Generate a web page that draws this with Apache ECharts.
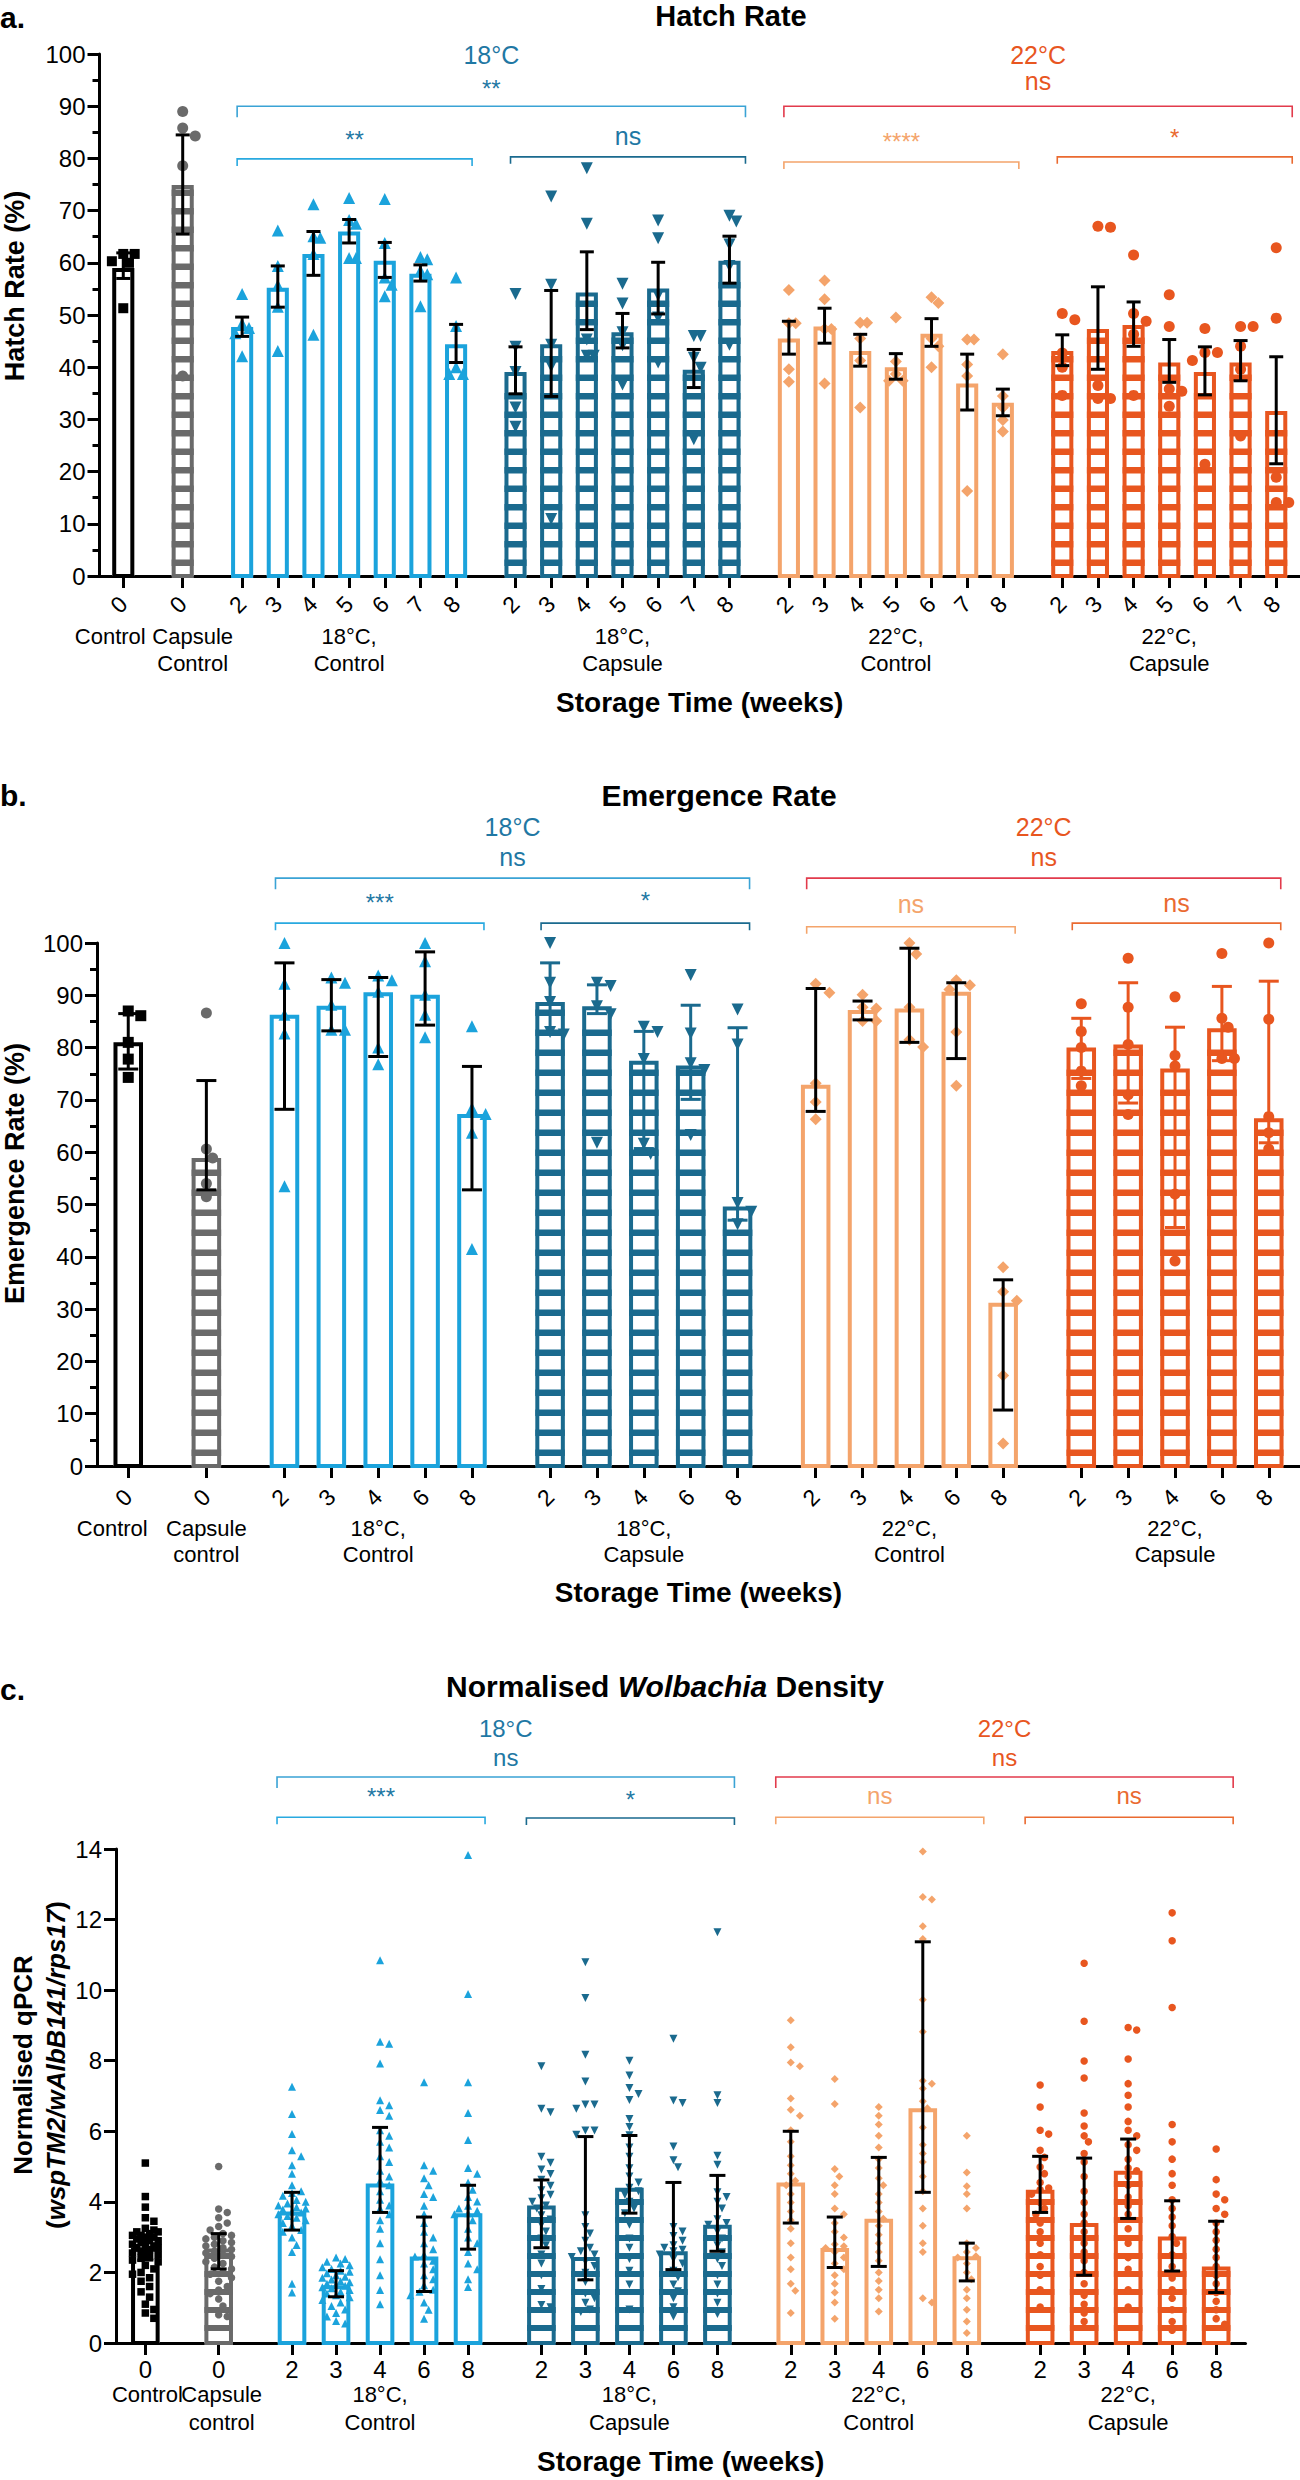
<!DOCTYPE html>
<html>
<head>
<meta charset="utf-8">
<script src="https://cdn.jsdelivr.net/npm/echarts@6/dist/echarts.min.js"></script>
<style>html,body{margin:0;padding:0;background:#fff}#chart{width:1300px;height:2480px}</style>
</head>
<body>
<div id="chart"></div>
<script>
// ---------------- DATA ----------------
// Panel a: Hatch rate (%)
const hatchLabels = ['Control', 'Capsule\nControl', '18°C,\nControl', '18°C,\nCapsule', '22°C,\nControl', '22°C,\nCapsule'];
const hatchWeeks = [[0], [0], [2, 3, 4, 5, 6, 7, 8], [2, 3, 4, 5, 6, 7, 8], [2, 3, 4, 5, 6, 7, 8], [2, 3, 4, 5, 6, 7, 8]];
const hatchMean = [[59.0], [74.9], [47.7, 55.2, 61.7, 66.0, 60.4, 57.9, 44.4], [39.1, 44.4, 54.3, 46.7, 55.1, 39.5, 60.4], [45.5, 47.8, 43.1, 40.0, 46.4, 36.9, 33.2], [43.1, 47.3, 48.1, 40.9, 39.1, 40.9, 31.6]];
const hatchLow = [[57.0], [65.5], [45.9, 51.5, 57.6, 63.8, 57.2, 56.5, 40.9], [34.9, 34.4, 47.2, 43.7, 50.2, 36.1, 56.1], [42.5, 44.6, 40.2, 37.7, 44.0, 31.8, 30.7], [40.3, 39.6, 44.0, 37.1, 34.7, 37.4, 21.5]];
const hatchHigh = [[61.9], [84.5], [49.6, 59.4, 66.0, 68.3, 63.9, 59.6, 48.2], [43.9, 54.7, 62.1, 50.3, 60.1, 43.4, 65.1], [48.8, 51.3, 46.3, 42.6, 49.3, 42.5, 35.8], [46.2, 55.4, 52.5, 45.3, 43.9, 45.1, 42.0]];
const hatchPoints = [
  [[61.7, 61.7, 60.3, 60.0, 51.3]],
  [[89.0, 85.8, 84.3, 78.6, 38.3]],
  [[54.0, 48.3, 47.5, 46.5, 42.1], [66.2, 59.4, 55.7, 51.6, 43.1], [71.2, 65.1, 64.8, 61.7, 46.2], [72.4, 68.2, 67.5, 60.9, 60.9], [72.2, 63.8, 57.2, 55.8, 53.6], [61.1, 60.7, 58.5, 57.8, 51.7], [57.2, 47.9, 40.0, 38.7, 38.7]],
  [[54.0, 43.9, 39.1, 32.3, 28.6], [72.7, 55.8, 44.3, 40.2, 10.9], [78.1, 67.5, 45.3, 42.2, 42.2], [56.0, 52.2, 46.7, 44.2, 36.7], [68.1, 64.7, 53.8, 49.5, 40.9], [46.0, 46.0, 41.8, 39.9, 26.2], [69.0, 67.9, 63.5, 59.4, 44.3]],
  [[54.8, 48.4, 48.4, 39.6, 37.2], [56.6, 53.0, 47.3, 47.3, 36.9], [48.5, 48.5, 45.5, 41.3, 32.3], [49.5, 41.1, 38.7, 37.4, 37.4], [53.4, 52.3, 45.5, 44.0, 40.0], [45.3, 45.3, 40.5, 38.3, 16.3], [42.5, 34.5, 32.3, 29.9, 27.7]],
  [[50.3, 49.1, 42.7, 40.0, 34.6], [67.0, 66.8, 36.5, 34.0, 34.0], [61.5, 50.3, 48.8, 46.3, 34.6], [53.9, 47.8, 35.8, 35.4, 32.5], [47.4, 42.8, 42.8, 41.3, 21.4], [47.8, 47.8, 44.0, 39.6, 26.8], [62.9, 49.4, 18.9, 14.1, 14.1]]
];
const hatchSig = [['18°C', '**'], ['**'], ['ns'], ['22°C', 'ns'], ['****'], ['*']];

// Panel b: Emergence rate (%)
const emergLabels = ['Control', 'Capsule\ncontrol', '18°C,\nControl', '18°C,\nCapsule', '22°C,\nControl', '22°C,\nCapsule'];
const emergWeeks = [[0], [0], [2, 3, 4, 6, 8], [2, 3, 4, 6, 8], [2, 3, 4, 6, 8], [2, 3, 4, 6, 8]];
const emergMedian = [[81.0], [58.9], [86.3, 88.0, 90.6, 90.1, 67.3], [88.7, 87.9, 77.5, 76.6, 49.6], [72.9, 87.2, 87.5, 90.7, 31.2], [80.0, 80.6, 76.0, 83.7, 66.5]];
const emergLow = [[75.9], [52.8], [68.2, 83.2, 78.3, 84.3, 52.8], [83.0, 86.5, 60.7, 70.1, 47.0], [67.8, 85.3, 81.0, 77.9, 10.7], [74.1, 69.4, 45.6, 77.5, 61.8]];
const emergHigh = [[86.5], [73.7], [96.2, 93.0, 93.4, 98.3, 76.4], [96.2, 92.0, 83.1, 88.1, 83.8], [91.3, 88.9, 99.0, 92.4, 35.6], [85.6, 92.4, 83.9, 91.7, 92.7]];
const emergPoints = [
  [[87.0, 86.1, 81.0, 77.8, 74.3]],
  [[86.6, 60.6, 58.9, 54.0, 51.5]],
  [[100.0, 92.2, 86.3, 82.7, 53.5], [93.4, 92.4, 88.2, 83.4, 83.4], [93.8, 92.9, 90.7, 80.0, 76.8], [100.0, 96.5, 90.1, 86.3, 82.0], [84.1, 68.4, 67.3, 63.7, 41.5]],
  [[100.0, 92.4, 88.7, 83.0, 82.5], [92.4, 91.8, 87.9, 86.4, 61.8], [84.0, 83.0, 77.8, 61.6, 59.7], [93.9, 82.7, 77.0, 75.7, 63.3], [87.3, 80.6, 50.3, 48.6, 46.2]],
  [[92.2, 90.5, 73.2, 69.6, 66.3], [90.1, 87.7, 87.5, 85.1, 85.1], [100.0, 97.9, 87.7, 81.5, 80.1], [92.9, 91.9, 91.1, 83.0, 72.7], [38.0, 33.3, 31.6, 17.3, 4.3]],
  [[88.4, 83.1, 80.0, 75.5, 72.7], [97.1, 87.7, 80.6, 71.0, 67.2], [89.7, 78.5, 76.5, 52.0, 39.2], [98.0, 85.6, 83.9, 77.9, 77.9], [100.0, 85.4, 66.8, 63.7, 60.6]]
];
const emergSig = [['18°C', 'ns'], ['***'], ['*'], ['22°C', 'ns'], ['ns'], ['ns']];

// Panel c: Normalised Wolbachia density
const wolbLabels = ['Control', 'Capsule\ncontrol', '18°C,\nControl', '18°C,\nCapsule', '22°C,\nControl', '22°C,\nCapsule'];
const wolbWeeks = [[0], [0], [2, 3, 4, 6, 8], [2, 3, 4, 6, 8], [2, 3, 4, 6, 8], [2, 3, 4, 6, 8]];
const wolbMedian = [[2.70], [2.68], [3.73, 1.64, 4.52, 2.45, 3.68], [3.90, 2.44, 4.40, 2.60, 3.35], [4.55, 2.69, 3.52, 6.65, 2.46], [4.34, 3.40, 4.88, 3.02, 2.17]];
const wolbLow = [[2.35], [2.10], [3.20, 1.31, 3.70, 1.46, 2.66], [2.70, 1.79, 3.68, 2.08, 2.60], [3.40, 2.14, 2.17, 4.27, 1.76], [3.70, 1.92, 3.53, 2.04, 1.43]];
const wolbHigh = [[3.00], [3.10], [4.27, 2.05, 6.11, 3.57, 4.47], [4.62, 5.85, 5.88, 4.55, 4.75], [6.00, 3.57, 5.26, 11.37, 2.83], [5.29, 5.24, 5.78, 4.03, 3.45]];
const wolbPoints = [
  [[5.1, 4.15, 3.85, 3.55, 3.45, 3.25, 3.2, 3.15, 3.15, 3.1, 3.05, 3.05, 3.0, 3.0, 2.95, 2.9, 2.9, 2.85, 2.8, 2.75, 2.75, 2.7, 2.7, 2.65, 2.6, 2.55, 2.5, 2.45, 2.4, 2.35, 2.3, 2.2, 2.1, 2.0, 1.95, 1.85, 1.75, 1.6, 1.45, 1.3, 1.1, 0.95, 0.85, 0.7]],
  [[5.0, 3.8, 3.7, 3.55, 3.4, 3.3, 3.2, 3.1, 3.05, 3.0, 2.95, 2.9, 2.85, 2.8, 2.75, 2.7, 2.65, 2.6, 2.55, 2.5, 2.45, 2.4, 2.3, 2.25, 2.15, 2.1, 2.0, 1.95, 1.85, 1.75, 1.6, 1.5, 1.4, 1.25, 1.05, 0.8, 0.75]],
  [
    [7.26, 6.49, 5.92, 5.46, 5.29, 5.04, 4.8, 4.47, 4.3, 4.25, 4.17, 4.05, 4.0, 3.95, 3.9, 3.85, 3.81, 3.78, 3.73, 3.7, 3.65, 3.6, 3.55, 3.48, 3.4, 3.32, 3.2, 3.15, 2.99, 2.78, 2.58, 1.68, 1.43],
    [2.42, 2.38, 2.3, 2.25, 2.2, 2.15, 2.1, 2.05, 2.02, 1.98, 1.92, 1.88, 1.85, 1.8, 1.75, 1.72, 1.68, 1.65, 1.62, 1.58, 1.55, 1.5, 1.45, 1.4, 1.35, 1.3, 1.22, 1.15, 1.05, 0.95, 0.85, 0.75, 0.62, 0.55],
    [10.85, 8.54, 8.48, 7.92, 6.88, 6.74, 6.6, 6.44, 6.03, 5.87, 5.7, 5.54, 5.29, 5.13, 4.88, 4.72, 4.6, 4.47, 4.3, 4.06, 3.9, 3.81, 3.65, 3.48, 3.24, 2.83, 2.37, 1.92, 1.5, 1.1],
    [7.39, 5.04, 4.88, 4.67, 4.47, 4.22, 4.14, 3.89, 3.65, 3.4, 3.15, 2.99, 2.83, 2.66, 2.5, 2.45, 2.33, 2.25, 2.09, 1.92, 1.81, 1.64, 1.51, 1.45, 1.35, 1.15, 0.94, 0.69],
    [13.83, 9.89, 7.39, 6.52, 5.75, 4.96, 4.8, 4.55, 4.34, 4.14, 4.01, 3.89, 3.81, 3.75, 3.68, 3.65, 3.48, 3.24, 2.99, 2.83, 2.58, 2.25, 2.09, 1.81, 1.59]
  ],
  [
    [7.84, 6.64, 6.54, 5.28, 5.11, 4.92, 4.79, 4.63, 4.46, 4.33, 4.2, 4.1, 4.0, 3.9, 3.81, 3.62, 3.5, 3.35, 3.16, 2.96, 2.77, 2.51, 2.25, 1.92, 1.53, 1.08, 1.01],
    [10.79, 9.78, 8.17, 7.41, 6.76, 6.76, 6.64, 6.02, 6.02, 5.9, 3.62, 3.29, 3.1, 2.9, 2.7, 2.6, 2.51, 2.44, 2.31, 2.18, 1.99, 1.73, 1.4, 1.27, 1.14, 0.95, 0.88],
    [8.0, 7.58, 7.23, 7.06, 6.89, 6.35, 6.12, 5.89, 5.54, 5.28, 4.95, 4.72, 4.55, 4.4, 4.3, 4.2, 4.0, 3.81, 3.68, 3.35, 2.96, 2.7, 2.38, 2.05, 1.66, 0.95],
    [8.62, 6.87, 6.8, 5.57, 5.18, 4.98, 3.29, 3.16, 3.03, 2.9, 2.77, 2.7, 2.64, 2.6, 2.51, 2.38, 2.25, 2.05, 1.86, 1.66, 1.47, 1.27, 1.01, 0.75],
    [11.64, 7.02, 6.8, 5.31, 5.05, 4.27, 4.14, 4.0, 3.81, 3.51, 3.4, 3.35, 3.16, 2.96, 2.77, 2.57, 2.38, 2.18, 1.92, 1.66, 1.4, 1.14, 0.82]
  ],
  [
    [9.15, 8.38, 7.95, 7.84, 6.93, 6.61, 6.44, 6.03, 5.7, 5.29, 5.04, 4.8, 4.6, 4.47, 4.22, 3.98, 3.73, 3.48, 3.24, 2.83, 2.42, 2.09, 1.68, 1.48, 0.85],
    [7.48, 6.77, 4.93, 4.72, 4.47, 4.22, 3.81, 3.65, 3.4, 3.15, 2.99, 2.8, 2.74, 2.69, 2.58, 2.42, 2.25, 2.09, 1.92, 1.68, 1.43, 1.15, 0.69],
    [6.69, 6.44, 6.19, 5.87, 5.54, 5.21, 4.96, 4.67, 4.47, 4.22, 3.98, 3.73, 3.52, 3.32, 3.07, 2.83, 2.58, 2.33, 2.0, 1.76, 1.51, 1.27, 0.89],
    [13.93, 12.64, 12.57, 11.81, 11.45, 9.73, 8.82, 7.43, 7.35, 7.21, 6.85, 6.65, 6.11, 5.62, 5.37, 5.13, 4.72, 4.3, 3.81, 3.32, 2.83, 2.58, 1.27, 1.15],
    [5.87, 4.83, 4.44, 4.22, 3.81, 2.83, 2.69, 2.58, 2.46, 2.42, 2.25, 2.0, 1.81, 1.51, 1.27, 0.94, 0.61, 0.28]
  ],
  [
    [7.31, 6.69, 6.03, 5.92, 5.46, 5.26, 4.99, 4.8, 4.55, 4.39, 4.34, 4.22, 3.98, 3.81, 3.65, 3.4, 3.15, 2.83, 2.5, 2.17, 1.92, 1.51, 1.02],
    [10.76, 9.12, 7.99, 7.51, 6.52, 6.15, 5.87, 5.7, 5.37, 5.13, 4.72, 4.3, 3.98, 3.65, 3.4, 3.15, 2.83, 2.58, 2.33, 2.0, 1.68, 1.35, 1.1, 0.85, 0.61],
    [8.94, 8.87, 8.05, 7.35, 7.02, 6.69, 6.28, 6.03, 5.87, 5.62, 5.46, 5.21, 4.96, 4.88, 4.72, 4.47, 4.14, 3.89, 3.65, 3.24, 2.83, 2.42, 2.09, 1.51, 1.02],
    [12.19, 11.4, 9.51, 6.19, 5.7, 5.21, 4.8, 4.47, 4.06, 3.81, 3.57, 3.32, 3.02, 2.83, 2.5, 2.17, 1.84, 1.51, 1.27, 0.94, 0.61, 0.36],
    [5.5, 4.63, 4.22, 4.06, 3.81, 3.65, 3.4, 3.15, 2.91, 2.66, 2.42, 2.17, 1.92, 1.68, 1.43, 1.18, 0.94, 0.69, 0.53]
  ]
];
const wolbSig = [['18°C', 'ns'], ['***'], ['*'], ['22°C', 'ns'], ['ns'], ['ns']];

// ---------------- STYLE / LAYOUT ----------------
const FONT = '"Liberation Sans", Arial, Helvetica, sans-serif';
const COLORS = ['#000000', '#6a6a6a', '#1ba3dc', '#1a6a8e', '#f4a46b', '#e8561f'];
const SYMBOLS = ['rect', 'circle', 'triangle', 'triangle', 'diamond', 'circle'];
const SYM_ROT = [0, 0, 0, 180, 0, 0];
const STRIPED = [false, true, false, true, false, true];
const TEXT18 = '#1f78a4', TEXT22 = '#e8561f';
const BRACKETS = [
  { from: 2, to: 3, top: true, line: '#3aa3d5', text: [TEXT18, TEXT18] },
  { from: 2, to: 2, top: false, line: '#29a9e0', text: [TEXT18] },
  { from: 3, to: 3, top: false, line: '#1a6a8e', text: [TEXT18] },
  { from: 4, to: 5, top: true, line: '#e23b4c', text: [TEXT22, TEXT22] },
  { from: 4, to: 4, top: false, line: '#f4a46b', text: ['#f4a46b'] },
  { from: 5, to: 5, top: false, line: '#ea6a30', text: ['#ea6a30'] }
];
const BLACK6 = ['#000', '#000', '#000', '#000', '#000', '#000'];

const panels = [
  {
    data: { labels: hatchLabels, weeks: hatchWeeks, bars: hatchMean, lo: hatchLow, hi: hatchHigh, pts: hatchPoints, sig: hatchSig },
    grid: { left: 99.5, top: 54, width: 1200.5, height: 522 },
    y: { min: 0, max: 100, interval: 10, minor: true },
    yName: 'Hatch Rate (%)', yNameGap: 68, yNamePad: 58, yNameSize: 27,
    tickRotate: 45, tickMargin: 24, tickSize: 23, groupMargin: 47, groupLine: 27, groupSize: 22,
    groupShift: [-13, 10, 0, 0, 0, 0], xNameGap: 112,
    barFrac: 0.62, barLine: 4, cap: 14, errColors: BLACK6, symSize: [10, 11, 12, 12, 12, 11],
    stripe: { period: 18.5, thick: 6.5, gap0: 10 },
    brTop: 90, brTopDy: [-51, -25], brInner: [79.9, 80.3, 79.3, 80.3], brInnerDy: [-27, -21, -28, -27],
    brPad: [-5, 16], brTick: [11, 7], brFont: [25, 24]
  },
  {
    data: { labels: emergLabels, weeks: emergWeeks, bars: emergMedian, lo: emergLow, hi: emergHigh, pts: emergPoints, sig: emergSig },
    grid: { left: 97, top: 943, width: 1203, height: 523 },
    y: { min: 0, max: 100, interval: 10, minor: true },
    yName: 'Emergence Rate (%)', yNameGap: 66, yNamePad: 62, yNameSize: 27,
    tickRotate: 45, tickMargin: 27, tickSize: 23, groupMargin: 49, groupLine: 26, groupSize: 22,
    groupShift: [-16, 0, 0, 0, 0, 0], xNameGap: 112,
    barFrac: 0.63, barLine: 4, cap: 20, errColors: ['#000', '#000', '#000', '#1a6a8e', '#000', '#e8561f'],
    symSize: [11, 11, 12, 12, 12, 11],
    stripe: { period: 20, thick: 6.5, gap0: 10 },
    brTop: 112.4, brTopDy: [-51, -21], brInner: [103.8, 103.8, 103.1, 103.8], brInnerDy: [-28, -30, -23, -20],
    brPad: [-9, 12], brTick: [11, 7], brFont: [25, 24]
  },
  {
    data: { labels: wolbLabels, weeks: wolbWeeks, bars: wolbMedian, lo: wolbLow, hi: wolbHigh, pts: wolbPoints, sig: wolbSig },
    grid: { left: 116, top: 1849, width: 1129.5, height: 494 },
    y: { min: 0, max: 14, interval: 2, minor: false },
    yName: 'Normalised qPCR\n({i|wspTM2/wAlbB141/rps17})', yNameGap: 44, yNamePad: 62, yNameSize: 26,
    tickRotate: 0, tickMargin: 14, tickSize: 24, groupMargin: 37, groupLine: 28, groupSize: 22,
    groupShift: [2, 3, 0, 0, 0, 0], xNameGap: 104,
    barFrac: 0.65, barLine: 4, cap: 16, errColors: BLACK6, symSize: [7.5, 7.5, 8, 8, 8, 7.5],
    stripe: { period: 18, thick: 6, gap0: 12 },
    brTop: 16.04, brTopDy: [-49, -20], brInner: [14.9, 14.88, 14.9, 14.9], brInnerDy: [-28, -26, -22, -22],
    brPad: [-15, 17], brTick: [11, 7], brFont: [24, 24]
  }
];

// ---------------- HELPERS ----------------
function buildLayout(weeks) {
  const cats = ['gap0', 'gap1'];
  const idx = [];
  weeks.forEach((wk, g) => {
    if (g > 0) for (let k = 0; k < 4; k++) cats.push('gap' + cats.length);
    const arr = [];
    wk.forEach((w, i) => {
      if (i > 0) { cats.push('gap' + cats.length); cats.push('gap' + cats.length); }
      arr.push(cats.length);
      cats.push(String(w));
    });
    idx.push(arr);
  });
  cats.push('gap' + cats.length, 'gap' + (cats.length + 1));
  return { cats, idx };
}

function swarmOffsets(values, ppu, d, maxHalf) {
  const placed = [];
  const step = d * 0.6;
  return values.map(v => {
    const y = v * ppu;
    const cands = [0];
    for (let k = 1; k * step <= maxHalf; k++) cands.push(k * step, -k * step);
    let best = 0, bestScore = -1;
    for (const dx of cands) {
      let minD = Infinity;
      for (const p of placed) { const dd = Math.hypot(p[0] - dx, p[1] - y); if (dd < minD) minD = dd; }
      if (minD >= d) { best = dx; bestScore = Infinity; break; }
      if (minD > bestScore) { bestScore = minD; best = dx; }
    }
    placed.push([best, y]);
    return best;
  });
}

// ---------------- OPTION ----------------
const option = {
  animation: false,
  backgroundColor: '#fff',
  textStyle: { fontFamily: FONT },
  title: [
    { text: 'a.', left: 0, top: 2, padding: 0, textStyle: { fontSize: 30, fontWeight: 'bold', fontFamily: FONT, color: '#000' } },
    { text: 'Hatch Rate', left: 731, top: 1, textAlign: 'center', padding: 0, textStyle: { fontSize: 29, fontWeight: 'bold', fontFamily: FONT, color: '#000' } },
    { text: 'b.', left: 0, top: 780, padding: 0, textStyle: { fontSize: 30, fontWeight: 'bold', fontFamily: FONT, color: '#000' } },
    { text: 'Emergence Rate', left: 719, top: 780, textAlign: 'center', padding: 0, textStyle: { fontSize: 30, fontWeight: 'bold', fontFamily: FONT, color: '#000' } },
    { text: 'c.', left: 0, top: 1674, padding: 0, textStyle: { fontSize: 30, fontWeight: 'bold', fontFamily: FONT, color: '#000' } },
    { text: 'Normalised {i|Wolbachia} Density', left: 665, top: 1671, textAlign: 'center', padding: 0,
      textStyle: { fontSize: 30, fontWeight: 'bold', fontFamily: FONT, color: '#000',
        rich: { i: { fontSize: 30, fontWeight: 'bold', fontStyle: 'italic', fontFamily: FONT, color: '#000' } } } }
  ],
  grid: [], xAxis: [], yAxis: [], series: []
};

panels.forEach((cfg, pi) => {
  const D = cfg.data;
  const { cats, idx } = buildLayout(D.weeks);
  const real = new Set([].concat(...idx));
  const xMain = pi * 3;
  const groupAt = {};
  D.labels.forEach((lab, g) => { const arr = idx[g]; groupAt[arr[Math.floor(arr.length / 2)]] = g; });
  const rich = {};
  cfg.groupShift.forEach((s, g) => {
    rich['g' + g] = { fontSize: cfg.groupSize, fontFamily: FONT, color: '#000', lineHeight: cfg.groupLine,
      padding: s < 0 ? [0, -2 * s, 0, 0] : [0, 0, 0, 2 * s] };
  });
  const groupFormatter = (value, index) => {
    const g = groupAt[index];
    if (g === undefined) return '';
    return D.labels[g].split('\n').map(t => '{g' + g + '|' + t + '}').join('\n');
  };
  const groupAxis = (filter, withName) => {
    const ax = {
      gridIndex: pi, type: 'category', data: cats, boundaryGap: false, position: 'bottom',
      axisLine: { show: false }, axisTick: { show: false }, splitLine: { show: false },
      axisLabel: { show: true, interval: (i) => groupAt[i] !== undefined && filter(groupAt[i]), margin: cfg.groupMargin,
        fontSize: cfg.groupSize, lineHeight: cfg.groupLine, color: '#000', fontFamily: FONT, hideOverlap: false,
        formatter: groupFormatter, rich }
    };
    if (withName) {
      Object.assign(ax, { name: 'Storage Time (weeks)', nameLocation: 'middle', nameGap: cfg.xNameGap, nameMoveOverlap: false,
        nameTextStyle: { fontSize: 28, fontWeight: 'bold', color: '#000', fontFamily: FONT } });
    }
    return ax;
  };

  option.grid.push(Object.assign({ containLabel: false, outerBoundsMode: 'none', show: false }, cfg.grid));

  // main category axis: ticks + week labels
  option.xAxis.push({
    gridIndex: pi, type: 'category', data: cats, boundaryGap: false, position: 'bottom',
    axisLine: { show: true, onZero: false, lineStyle: { color: '#000', width: 3 } },
    axisTick: { show: true, interval: (i) => real.has(i), length: 12, lineStyle: { color: '#000', width: 3 } },
    axisLabel: { show: true, interval: (i) => real.has(i), rotate: cfg.tickRotate, margin: cfg.tickMargin,
      fontSize: cfg.tickSize, color: '#000', fontFamily: FONT, hideOverlap: false, showMinLabel: true, showMaxLabel: true },
    splitLine: { show: false }
  });
  // group labels (all groups except the first) + axis title
  option.xAxis.push(groupAxis(g => g > 0, true));
  // first group label on its own axis so it is never hidden by overlap checks
  option.xAxis.push(groupAxis(g => g === 0, false));

  option.yAxis.push({
    gridIndex: pi, type: 'value', min: cfg.y.min, max: cfg.y.max, interval: cfg.y.interval,
    axisLine: { show: true, lineStyle: { color: '#000', width: 3 } },
    axisTick: { show: true, length: 12, lineStyle: { color: '#000', width: 3 } },
    minorTick: { show: cfg.y.minor, splitNumber: 2, length: 7, lineStyle: { color: '#000', width: 3 } },
    splitLine: { show: false },
    axisLabel: { fontSize: 24, color: '#000', margin: 14, fontFamily: FONT },
    name: cfg.yName, nameLocation: 'middle', nameRotate: 90, nameGap: cfg.yNameGap, nameMoveOverlap: false,
    nameTextStyle: { fontSize: cfg.yNameSize, fontWeight: 'bold', color: '#000', fontFamily: FONT,
      lineHeight: 33, padding: [0, 0, 0, cfg.yNamePad],
      rich: { i: { fontSize: cfg.yNameSize, fontWeight: 'bold', fontStyle: 'italic', color: '#000', fontFamily: FONT, lineHeight: 33 } } }
  });

  // Bars (open or horizontally striped)
  const barData = [];
  D.bars.forEach((arr, g) => arr.forEach((v, i) => barData.push([idx[g][i], v, g])));
  option.series.push({
    type: 'custom', xAxisIndex: xMain, yAxisIndex: pi, z: 2, silent: true, clip: false, data: barData,
    renderItem: (params, api) => {
      const x = api.value(0), v = api.value(1), g = api.value(2);
      const top = api.coord([x, v]), base = api.coord([x, 0]);
      const slot = (api.coord([x + 1, 0])[0] - base[0]) * 3;
      const bw = slot * cfg.barFrac, xL = top[0] - bw / 2, h = base[1] - top[1], lw = cfg.barLine, col = COLORS[g];
      const ch = [{ type: 'rect', shape: { x: xL, y: top[1], width: bw, height: h }, style: { fill: '#fff' } }];
      if (STRIPED[g]) {
        const st = cfg.stripe;
        for (let yb = base[1] - st.gap0; yb - st.thick > top[1] + lw; yb -= st.period) {
          ch.push({ type: 'rect', shape: { x: xL, y: yb - st.thick, width: bw, height: st.thick }, style: { fill: col } });
        }
      }
      ch.push({ type: 'rect', shape: { x: xL + lw / 2, y: top[1] + lw / 2, width: bw - lw, height: h - lw / 2 },
        style: { fill: 'none', stroke: col, lineWidth: lw } });
      return { type: 'group', children: ch };
    }
  });

  // Individual points (beeswarm spread)
  const ppu = cfg.grid.height / (cfg.y.max - cfg.y.min);
  const slotPx = 3 * cfg.grid.width / (cats.length - 1);
  const maxHalf = slotPx * cfg.barFrac / 2 + 2;
  D.pts.forEach((grp, g) => {
    const data = [];
    grp.forEach((vals, i) => {
      const offs = swarmOffsets(vals, ppu, cfg.symSize[g] * 0.95, maxHalf);
      vals.forEach((v, k) => data.push({ value: [idx[g][i], v], symbolOffset: [offs[k], 0] }));
    });
    option.series.push({
      type: 'scatter', xAxisIndex: xMain, yAxisIndex: pi, z: 3, silent: true, clip: false,
      symbol: SYMBOLS[g], symbolRotate: SYM_ROT[g], symbolSize: cfg.symSize[g],
      itemStyle: { color: COLORS[g], opacity: 1 }, data
    });
  });

  // Error bars
  const errData = [];
  D.lo.forEach((arr, g) => arr.forEach((lo, i) => errData.push([idx[g][i], lo, D.hi[g][i], g])));
  option.series.push({
    type: 'custom', xAxisIndex: xMain, yAxisIndex: pi, z: 4, silent: true, clip: false, data: errData,
    renderItem: (params, api) => {
      const x = api.value(0), lo = api.value(1), hi = api.value(2), g = api.value(3);
      const pl = api.coord([x, lo]), ph = api.coord([x, hi]), c = cfg.cap / 2;
      const style = { stroke: cfg.errColors[g], lineWidth: 3 };
      return { type: 'group', children: [
        { type: 'line', shape: { x1: pl[0], y1: pl[1], x2: ph[0], y2: ph[1] }, style },
        { type: 'line', shape: { x1: pl[0] - c, y1: pl[1], x2: pl[0] + c, y2: pl[1] }, style },
        { type: 'line', shape: { x1: ph[0] - c, y1: ph[1], x2: ph[0] + c, y2: ph[1] }, style }
      ] };
    }
  });

  // Significance brackets
  let innerK = 0;
  const brData = BRACKETS.map((b, k) => {
    const yv = b.top ? cfg.brTop : cfg.brInner[innerK++];
    return [idx[b.from][0], yv, idx[b.to][idx[b.to].length - 1], k];
  });
  const innerDyByK = {}; let ik = 0;
  BRACKETS.forEach((b, k) => { if (!b.top) innerDyByK[k] = [cfg.brInnerDy[ik++]]; });
  option.series.push({
    type: 'custom', xAxisIndex: xMain, yAxisIndex: pi, z: 5, silent: true, clip: false, data: brData,
    renderItem: (params, api) => {
      const k = api.value(3), b = BRACKETS[k];
      const p1 = api.coord([api.value(0), api.value(1)]), p2 = api.coord([api.value(2), api.value(1)]);
      const xs = p1[0] + cfg.brPad[0], xe = p2[0] + cfg.brPad[1], y = p1[1];
      const t = b.top ? cfg.brTick[0] : cfg.brTick[1];
      const ch = [{ type: 'polyline', shape: { points: [[xs, y + t], [xs, y], [xe, y], [xe, y + t]] },
        style: { stroke: b.line, lineWidth: 1.6, fill: null } }];
      const texts = D.sig[k];
      const dys = b.top ? cfg.brTopDy : innerDyByK[k];
      texts.forEach((txt, j) => {
        const isStar = /^\*+$/.test(txt);
        const size = (b.top && j === 0) ? cfg.brFont[0] : (isStar ? cfg.brFont[1] : cfg.brFont[0]);
        const dy = dys[j] + (isStar ? 0.3 * size : 0);
        ch.push({ type: 'text', x: (xs + xe) / 2, y: y + dy,
          style: { text: txt, fill: b.text[j], fontSize: size, fontFamily: FONT, align: 'center', verticalAlign: 'middle' } });
      });
      return { type: 'group', children: ch };
    }
  });
});

const chart = echarts.init(document.getElementById('chart'), null, { renderer: 'svg', width: 1300, height: 2480 });
chart.setOption(option);
</script>
</body>
</html>
